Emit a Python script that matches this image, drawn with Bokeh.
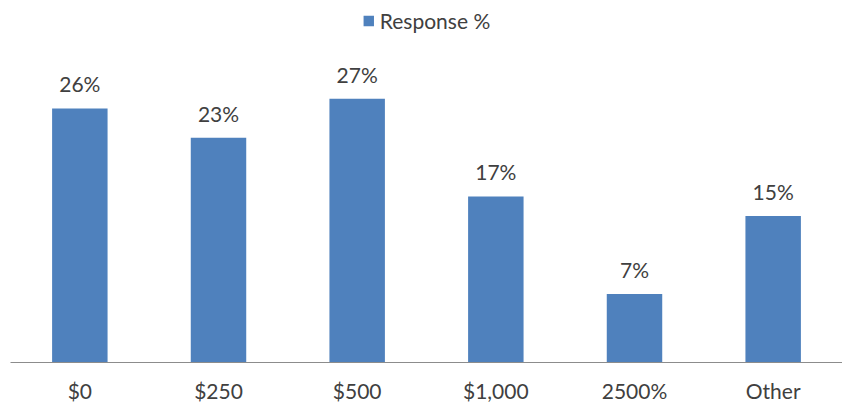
from bokeh.plotting import figure
from bokeh.models import ColumnDataSource, Range1d, Legend, LegendItem
from bokeh.core.properties import value
from bokeh.embed import file_html
from bokeh.resources import INLINE

categories = ["$0", "$250", "$500", "$1,000", "2500%", "Other"]
values = [26, 23, 27, 17, 7, 15]
labels = ["26%", "23%", "27%", "17%", "7%", "15%"]
series_name = "Response %"

FONT = "Lato"
TXT = "#404040"
BLUE = "#4F81BD"

src = ColumnDataSource(dict(cat=categories, val=values, lab=labels))

p = figure(width=842, height=405, x_range=categories, y_range=Range1d(0, 37.05),
           output_backend="svg", toolbar_location=None,
           min_border_left=10, min_border_right=0, min_border_top=0, min_border_bottom=43)
p.outline_line_color = None
p.background_fill_color = "white"
p.border_fill_color = "white"
p.xgrid.grid_line_color = None
p.ygrid.grid_line_color = None
p.yaxis.visible = False

r = p.vbar(x="cat", top="val", width=0.4, source=src, fill_color=BLUE, line_color=None)
p.text(x="cat", y="val", text="lab", source=src, text_align="center", text_baseline="bottom",
       y_offset=-12, text_font=value(FONT), text_font_size="21px", text_color=TXT)

ax = p.xaxis[0]
ax.axis_line_color = "#8c8c8c"
ax.axis_line_width = 1
ax.major_tick_line_color = None
ax.minor_tick_line_color = None
ax.major_label_text_font = FONT
ax.major_label_text_font_size = "21px"
ax.major_label_text_color = TXT
ax.major_label_standoff = 9

legend = Legend(items=[LegendItem(label=series_name, renderers=[r])], location="top_center",
                orientation="horizontal", border_line_color=None, background_fill_alpha=0,
                label_text_font=FONT, label_text_font_size="21px", label_text_color=TXT,
                glyph_width=13, glyph_height=13, padding=2, margin=8, label_standoff=5)
p.add_layout(legend)

open("out.html", "w").write(file_html(p, INLINE))
